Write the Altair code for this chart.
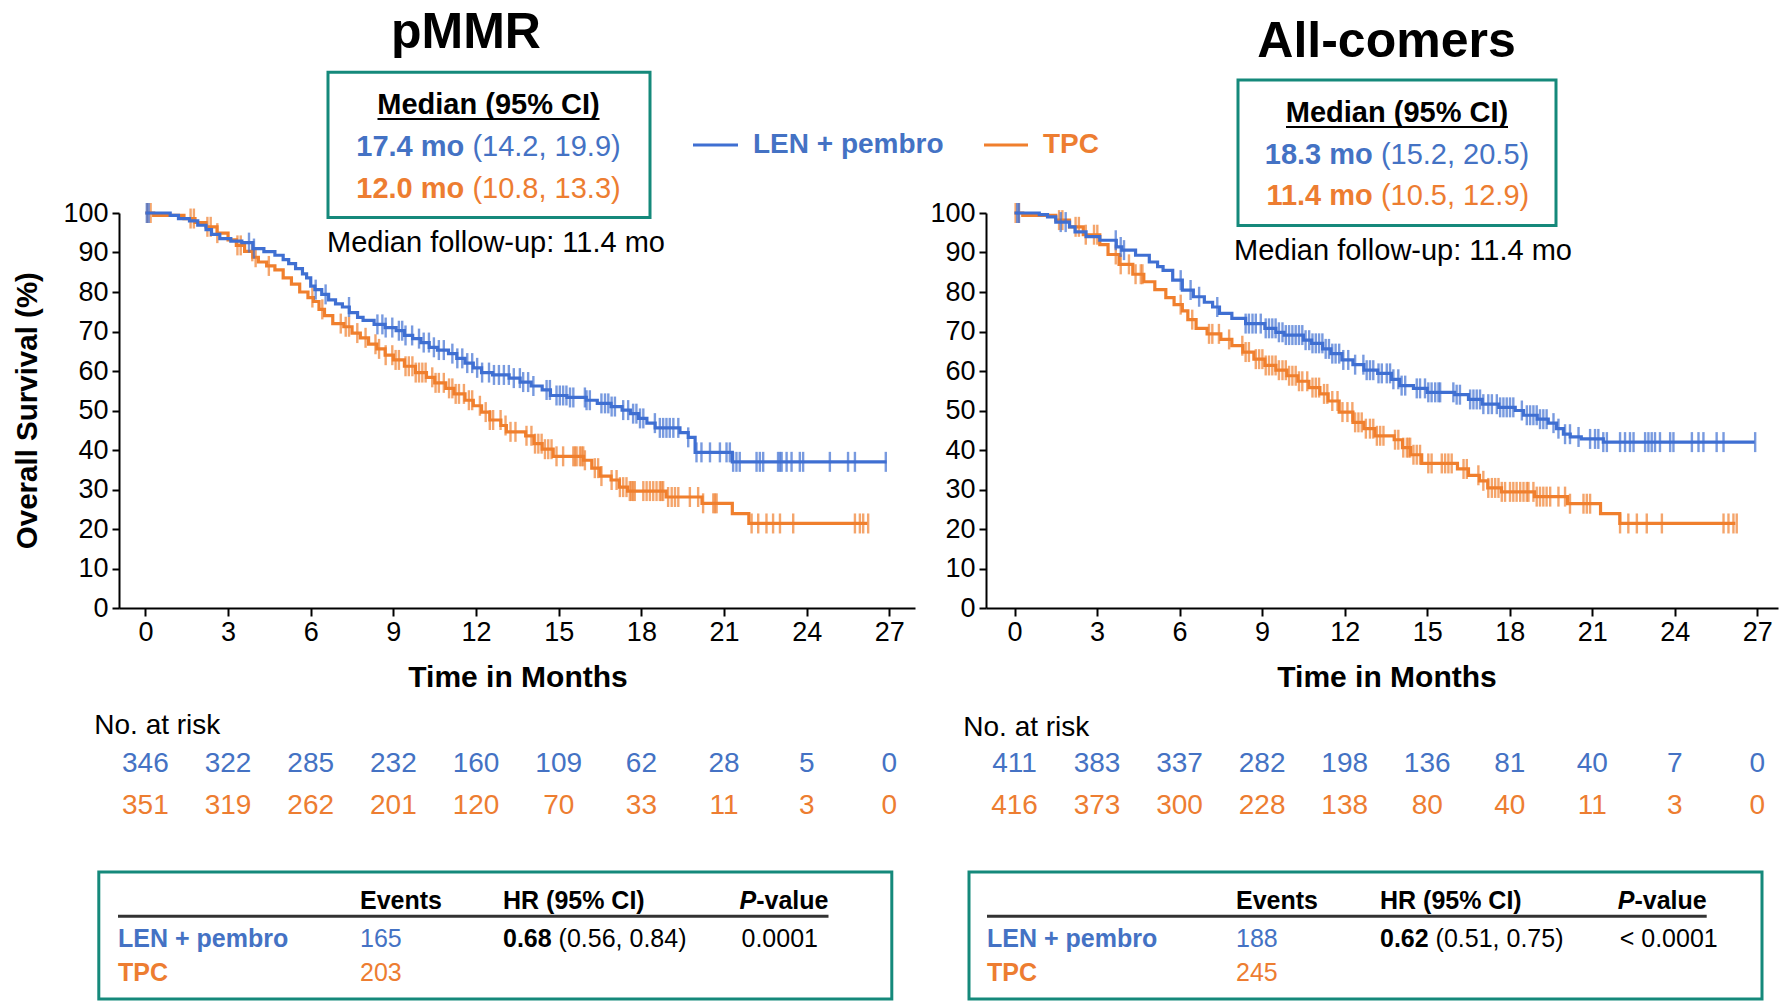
import altair as alt
import numpy as np
import pandas as pd

FONT = "Liberation Sans"
BLUE_TXT = "#4472C4"
ORANGE_TXT = "#ED7D31"
BLUE_LINE = "#3F6FD2"
ORANGE_LINE = "#F07F2D"
TEAL = "#15897B"

months = list(range(0, 28, 3))

# ---------------- pMMR ----------------
pmmr_len_t = [0, 0.9, 1.2, 1.6, 1.9, 2.2, 2.4, 2.7, 3.1, 3.5, 3.9, 4.3, 4.7, 5.0, 5.2, 5.45, 5.7, 5.85, 6.0, 6.15,
              6.4, 6.65, 6.9, 7.15, 7.4, 7.7, 7.9, 8.3, 8.7, 9.1, 9.4, 9.7, 10.0, 10.3, 10.6, 11.0, 11.3, 11.6, 11.9, 12.2,
              12.6, 13.2, 13.6, 14.0, 14.4, 14.7, 15.3, 16.0, 16.4, 16.9, 17.3, 17.6, 17.9, 18.2, 18.5, 19.4, 19.7, 19.95, 21.3, 26.9]
pmmr_len_s = [100, 99.4, 98.6, 98.0, 96.9, 95.8, 94.6, 93.5, 92.9, 92.5, 91.0, 90.2, 89.3, 88.2, 87.2, 85.9, 84.6, 83.6, 81.5, 80.6,
              79.4, 78.0, 77.0, 76.2, 74.8, 73.6, 72.8, 71.8, 71.0, 70.2, 69.0, 68.2, 67.2, 66.0, 65.3, 64.4, 63.2, 62.0, 60.8, 59.6,
              59.0, 58.2, 57.2, 56.2, 55.2, 53.8, 53.3, 52.6, 51.8, 51.0, 50.1, 49.2, 48.0, 46.8, 45.6, 44.4, 43.2, 39.4, 37.0, 37.0]
pmmr_len_c = [0.05, 0.12, 3.76, 3.94, 6.18, 6.54, 7.39, 8.42, 8.6, 8.72, 8.96, 9.2, 9.32, 9.44, 9.68, 9.93, 10.1, 10.29, 10.47,
              10.65, 10.83, 11.14, 11.32, 11.5, 11.68, 11.86, 12.04, 12.22, 12.47, 12.65, 12.83, 13.01, 13.19, 13.37, 13.59, 13.71,
              13.89, 14.08, 14.56, 14.68, 14.92, 15.04, 15.16, 15.28, 15.41, 15.53, 15.95, 16.01, 16.13, 16.55, 16.68, 16.8, 16.92,
              17.04, 17.34, 17.52, 17.7, 17.82, 17.95, 18.07, 18.49, 18.67, 18.79, 18.91, 19.03, 19.16, 19.34, 19.7, 20.0, 20.18,
              20.49, 20.85, 21.09, 21.21, 21.33, 21.45, 21.57, 22.18, 22.3, 22.42, 22.96, 23.03, 23.09, 23.27, 23.45, 23.75, 23.87,
              24.84, 25.5, 25.75, 26.87]

pmmr_tpc_t = [0, 0.3, 1.4, 1.8, 2.2, 2.6, 3.0, 3.3, 3.6, 3.9, 4.1, 4.4, 4.7, 5.0, 5.3, 5.6, 5.9, 6.1, 6.3, 6.5, 6.8, 7.2, 7.5,
              7.8, 8.1, 8.4, 8.7, 9.0, 9.4, 9.8, 10.2, 10.5, 10.9, 11.2, 11.6, 11.9, 12.2, 12.5, 12.9, 13.1, 13.8, 14.1, 14.4, 14.8,
              15.9, 16.2, 16.5, 16.9, 17.2, 17.5, 18.9, 20.2, 21.3, 21.9, 26.2]
pmmr_tpc_s = [100, 99.4, 98.6, 97.6, 96.5, 94.9, 93.2, 91.8, 90.3, 88.8, 87.6, 86.6, 85.6, 83.6, 82.0, 80.0, 78.6, 77.6, 75.6, 74.0,
              72.0, 71.2, 69.6, 68.4, 66.8, 65.6, 64.0, 62.8, 61.2, 59.6, 58.4, 57.0, 55.6, 54.2, 52.6, 51.2, 49.6, 47.6, 46.2, 44.6,
              43.6, 41.6, 40.2, 38.4, 37.4, 35.4, 33.4, 32.4, 30.6, 29.6, 28.1, 26.5, 23.9, 21.4, 21.4]
pmmr_tpc_c = [0.07, 0.19, 1.64, 1.76, 2.25, 2.37, 2.61, 3.34, 3.46, 3.88, 4.0, 4.48, 6.06, 6.42, 7.09, 7.27, 7.39, 7.69, 7.99,
              8.35, 8.48, 8.72, 8.96, 9.08, 9.2, 9.44, 9.56, 9.69, 9.81, 9.93, 10.05, 10.17, 10.41, 10.53, 10.65, 10.83, 11.02,
              11.14, 11.26, 11.38, 11.56, 11.74, 11.86, 12.14, 12.35, 12.5, 12.62, 12.89, 13.07, 13.25, 13.43, 13.83, 14.01, 14.14,
              14.26, 14.38, 14.5, 14.62, 14.74, 14.92, 15.16, 15.53, 15.59, 15.65, 15.77, 15.83, 15.89, 15.95, 16.31, 16.43, 16.55,
              16.92, 17.1, 17.22, 17.34, 17.46, 17.58, 17.64, 17.7, 17.76, 18.07, 18.19, 18.31, 18.43, 18.55, 18.67, 18.73, 18.79,
              18.97, 19.1, 19.22, 19.34, 19.76, 20.06, 20.24, 20.61, 20.67, 20.73, 22.0, 22.24, 22.54, 22.78, 23.03, 23.51, 25.75,
              25.93, 26.05, 26.23]

pmmr_risk_len = [346, 322, 285, 232, 160, 109, 62, 28, 5, 0]
pmmr_risk_tpc = [351, 319, 262, 201, 120, 70, 33, 11, 3, 0]

# ---------------- All-comers ----------------
all_len_t = [0, 0.9, 1.2, 1.5, 2.0, 2.2, 2.6, 3.1, 3.7, 3.9, 4.4, 4.9, 5.2, 5.4, 5.75, 6.1, 6.5, 6.9, 7.2, 7.45, 7.9, 8.4,
             9.1, 9.5, 9.8, 10.5, 10.8, 11.2, 11.5, 11.9, 12.3, 12.7, 13.2, 13.7, 14.0, 14.5, 15.0, 16.0, 16.5, 17.0, 17.6,
             18.2, 18.5, 19.0, 19.4, 19.7, 19.95, 20.2, 20.6, 21.4, 26.9]
all_len_s = [100, 99.6, 99.0, 97.7, 96.5, 95.2, 94.0, 93.1, 91.4, 90.6, 89.3, 87.6, 86.4, 85.5, 83.0, 80.5, 78.8, 77.4, 76.2,
             74.6, 73.3, 72.0, 70.8, 69.8, 69.1, 67.8, 67.0, 65.6, 64.4, 62.8, 61.6, 60.2, 59.4, 57.9, 56.3, 55.6, 54.6, 54.0,
             52.8, 51.6, 50.8, 50.0, 48.8, 47.8, 46.8, 45.4, 44.0, 43.3, 42.8, 42.0, 42.0]
all_len_c = [0.1, 0.16, 1.68, 1.86, 3.68, 3.86, 3.98, 6.04, 6.4, 6.71, 7.37, 8.4, 8.52, 8.65, 8.77, 8.95, 9.13, 9.25, 9.37,
             9.49, 9.61, 9.74, 9.86, 9.98, 10.1, 10.22, 10.34, 10.46, 10.58, 10.71, 10.83, 10.95, 11.07, 11.19, 11.31, 11.43,
             11.55, 11.67, 11.8, 11.95, 12.13, 12.38, 12.68, 12.8, 12.92, 13.04, 13.23, 13.35, 13.53, 13.65, 13.77, 13.95, 14.07,
             14.2, 14.62, 14.74, 14.92, 15.04, 15.16, 15.29, 15.41, 15.47, 15.95, 16.07, 16.19, 16.56, 16.68, 16.8, 16.92, 17.04,
             17.22, 17.35, 17.53, 17.65, 17.77, 17.89, 18.01, 18.13, 18.44, 18.62, 18.74, 18.86, 18.98, 19.1, 19.22, 19.34, 19.59,
             19.77, 20.01, 20.19, 20.5, 20.92, 21.1, 21.22, 21.4, 21.53, 22.01, 22.19, 22.37, 22.5, 22.92, 23.04, 23.16, 23.28,
             23.46, 23.83, 23.95, 24.62, 24.86, 25.04, 25.52, 25.77, 26.92]

all_tpc_t = [0, 0.3, 1.5, 2.0, 2.5, 3.1, 3.4, 3.8, 4.3, 4.7, 5.1, 5.5, 5.8, 6.1, 6.3, 6.6, 7.0, 7.5, 7.9, 8.3, 8.7, 9.1, 9.5,
             9.9, 10.3, 10.7, 11.1, 11.4, 11.8, 12.3, 12.7, 13.1, 13.8, 14.1, 14.4, 14.8, 16.1, 16.5, 16.9, 17.2, 17.7, 18.9,
             20.1, 21.3, 22.0, 26.2]
all_tpc_s = [100, 99.4, 98.2, 96.5, 94.5, 92.0, 89.5, 87.0, 84.5, 82.6, 80.6, 78.6, 76.8, 75.2, 73.0, 70.8, 69.4, 68.0, 66.4,
             64.8, 63.0, 61.4, 60.2, 58.8, 57.4, 55.8, 54.2, 52.4, 49.6, 47.0, 45.4, 43.6, 42.6, 40.6, 38.8, 36.6, 35.2, 33.6,
             32.2, 30.4, 29.4, 28.2, 26.4, 23.9, 21.4, 21.4]
all_tpc_c = [0.04, 0.16, 1.62, 1.74, 2.22, 2.34, 2.59, 2.89, 3.01, 3.68, 3.86, 4.16, 4.4, 4.59, 4.65, 6.04, 6.46, 7.07, 7.19,
             7.43, 7.8, 8.28, 8.4, 8.52, 8.77, 8.89, 9.01, 9.13, 9.25, 9.37, 9.49, 9.61, 9.74, 9.86, 9.98, 10.1, 10.22, 10.34,
             10.46, 10.64, 10.83, 10.95, 11.07, 11.25, 11.37, 11.55, 11.74, 11.92, 12.1, 12.28, 12.38, 12.5, 12.62, 12.77, 12.92,
             13.04, 13.17, 13.29, 13.41, 13.83, 13.95, 14.13, 14.26, 14.32, 14.38, 14.5, 14.62, 14.74, 15.04, 15.16, 15.53, 15.65,
             15.77, 15.89, 16.32, 16.44, 16.86, 17.04, 17.22, 17.35, 17.47, 17.59, 17.71, 17.83, 18.01, 18.13, 18.25, 18.38, 18.5,
             18.62, 18.68, 18.86, 18.98, 19.1, 19.22, 19.34, 19.47, 19.77, 20.01, 20.19, 20.68, 20.8, 20.92, 22.01, 22.31, 22.62,
             22.98, 23.53, 25.77, 25.95, 26.13, 26.25]

all_risk_len = [411, 383, 337, 282, 198, 136, 81, 40, 7, 0]
all_risk_tpc = [416, 373, 300, 228, 138, 80, 40, 11, 3, 0]

DUMMY = pd.DataFrame({"d": [0]})

XAXIS = alt.Axis(values=months, title=None, grid=False, domainColor="black", domainWidth=2,
                 tickColor="black", tickWidth=2, tickSize=8, labelFont=FONT, labelFontSize=27,
                 labelColor="black", labelPadding=3, labelFlush=False, labelOverlap=False)
YAXIS = alt.Axis(values=list(range(0, 101, 10)), title=None, grid=False, domainColor="black", domainWidth=2,
                 tickColor="black", tickWidth=2, tickSize=7, labelFont=FONT, labelFontSize=27,
                 labelColor="black", labelPadding=4, labelOverlap=False)


def step_at(ts, ss, t):
    i = int(np.searchsorted(np.array(ts), t, side="right")) - 1
    return ss[max(i, 0)]


def build_panel(cfg):
    ox, oy = cfg["origin"]
    W = cfg["width"]
    H = 395
    xs = alt.Scale(domain=cfg["xdomain"], nice=False, zero=False)
    ys = alt.Scale(domain=[0, 100], nice=False)

    def T(s, x, y, size, color="black", weight="normal", align="left", style="normal", angle=0):
        kw = dict(text=s, fontSize=size, font=FONT, fontWeight=weight, fontStyle=style,
                  align=align, baseline="middle", color=color)
        if angle:
            kw["angle"] = angle
        return alt.Chart(DUMMY).mark_text(**kw).encode(x=alt.value(x - ox), y=alt.value(y - oy))

    def R(x1, x2, y, color, w):
        return alt.Chart(DUMMY).mark_rule(color=color, strokeWidth=w).encode(
            x=alt.value(x1 - ox), x2=alt.value(x2 - ox), y=alt.value(y - oy))

    def BOX(x1, x2, y1, y2):
        return alt.Chart(DUMMY).mark_rect(fillOpacity=0, stroke=TEAL, strokeWidth=3).encode(
            x=alt.value(x1 - ox), x2=alt.value(x2 - ox), y=alt.value(y1 - oy), y2=alt.value(y2 - oy))

    layers = []
    for ts, ss, cs, col in [(cfg["tpc_t"], cfg["tpc_s"], cfg["tpc_c"], ORANGE_LINE),
                            (cfg["len_t"], cfg["len_s"], cfg["len_c"], BLUE_LINE)]:
        df = pd.DataFrame({"t": ts, "s": ss})
        layers.append(alt.Chart(df).mark_line(interpolate="step-after", color=col, strokeWidth=3.2).encode(
            x=alt.X("t:Q", scale=xs, axis=XAXIS), y=alt.Y("s:Q", scale=ys, axis=YAXIS)))
        cdf = pd.DataFrame({"t": cs, "s": [step_at(ts, ss, c) for c in cs]})
        layers.append(alt.Chart(cdf).mark_tick(orient="vertical", color=col, size=20, thickness=2.4).encode(
            x=alt.X("t:Q", scale=xs, axis=XAXIS), y=alt.Y("s:Q", scale=ys, axis=YAXIS)))

    # risk table
    for vals, col, yy in [(cfg["risk_len"], BLUE_TXT, 763.4), (cfg["risk_tpc"], ORANGE_TXT, 805.4)]:
        rdf = pd.DataFrame({"t": months, "n": [str(v) for v in vals]})
        layers.append(alt.Chart(rdf).mark_text(font=FONT, fontSize=28, align="center", baseline="middle",
                                               color=col).encode(
            x=alt.X("t:Q", scale=xs, axis=XAXIS), y=alt.value(yy - oy), text="n:N"))

    a = cfg["ann"]
    # title
    layers.append(T(cfg["title"], a["title"][0], a["title"][1], 50, weight="bold", align="center"))
    # median box
    bx = a["box"]
    layers.append(BOX(*bx))
    mc = a["mcenter"]
    layers.append(T("Median (95% CI)", mc, a["my"][0], 29, weight="bold", align="center"))
    layers.append(R(mc - 111, mc + 111, a["my"][0] + 14, "black", 2))
    split = mc - 132.2 + 116.1
    for (b, r), col, yy in [(cfg["med_len"], BLUE_TXT, a["my"][1]), (cfg["med_tpc"], ORANGE_TXT, a["my"][2])]:
        layers.append(T(b, split - 8.1, yy, 29, color=col, weight="bold", align="right"))
        layers.append(T(r, split, yy, 29, color=col, align="left"))
    layers.append(T("Median follow-up: 11.4 mo", a["fu"][0], a["fu"][1], 29, align="center"))
    # axis title
    layers.append(T("Time in Months", a["xt"][0], a["xt"][1], 30, weight="bold", align="center"))
    if "yt" in a:
        layers.append(T("Overall Survival (%)", a["yt"][0], a["yt"][1], 29.5, weight="bold",
                        align="center", angle=270))
    # legend
    if "legend" in a:
        lx = a["legend"]
        layers.append(R(lx[0], lx[0] + 45, lx[4], BLUE_LINE, 3))
        layers.append(T("LEN + pembro", lx[1], lx[4], 28, color=BLUE_TXT, weight="bold"))
        layers.append(R(lx[2], lx[2] + 44, lx[4], ORANGE_LINE, 3))
        layers.append(T("TPC", lx[3], lx[4], 28, color=ORANGE_TXT, weight="bold"))
    # no. at risk
    layers.append(T("No. at risk", a["nar"][0], a["nar"][1], 28))
    # bottom table
    tb = a["tbox"]
    layers.append(BOX(*tb))
    c0, c1, c2, c3 = a["cols"]
    hy, r1, r2 = 900.8, 938.3, 972.4
    layers.append(T("Events", c1, hy, 25, weight="bold"))
    layers.append(T("HR (95% CI)", c2, hy, 25, weight="bold"))
    layers.append(T("P", c3, hy, 25, weight="bold", style="italic"))
    layers.append(T("-value", c3 + 16.7, hy, 25, weight="bold"))
    layers.append(R(c0, c3 + 89, 915.6, "#333333", 3))
    layers.append(T("LEN + pembro", c0, r1, 25, color=BLUE_TXT, weight="bold"))
    layers.append(T(str(cfg["ev_len"]), c1, r1, 25, color=BLUE_TXT))
    layers.append(T(cfg["hr"][0], c2, r1, 25, weight="bold"))
    layers.append(T(cfg["hr"][1], c2 + 55.6, r1, 25))
    layers.append(T(cfg["pval"], c3 + 2, r1, 25))
    layers.append(T("TPC", c0, r2, 25, color=ORANGE_TXT, weight="bold"))
    layers.append(T(str(cfg["ev_tpc"]), c1, r2, 25, color=ORANGE_TXT))

    # invisible layout anchors
    for (ax, ay) in cfg["anchors"]:
        layers.append(alt.Chart(DUMMY).mark_rect(opacity=0).encode(
            x=alt.value(ax - ox), x2=alt.value(ax - ox + 1), y=alt.value(ay - oy), y2=alt.value(ay - oy + 1)))

    return alt.layer(*layers).properties(width=W, height=H)


p1 = build_panel(dict(
    origin=(119, 212.4), width=796, xdomain=[-0.958, 27.93], title="pMMR",
    len_t=pmmr_len_t, len_s=pmmr_len_s, len_c=pmmr_len_c,
    tpc_t=pmmr_tpc_t, tpc_s=pmmr_tpc_s, tpc_c=pmmr_tpc_c,
    risk_len=pmmr_risk_len, risk_tpc=pmmr_risk_tpc,
    med_len=("17.4 mo", "(14.2, 19.9)"), med_tpc=("12.0 mo", "(10.8, 13.3)"),
    ev_len=165, ev_tpc=203, hr=("0.68", "(0.56, 0.84)"), pval="0.0001",
    anchors=[(0, 0)],
    ann=dict(title=(466, 32), box=(328, 650, 71.6, 217), mcenter=488.5, my=(104.5, 146.5, 188.6),
             fu=(496, 242), xt=(518, 677), yt=(28.4, 410), legend=(693, 753, 984, 1043, 144.3),
             nar=(94.3, 725), tbox=(98.8, 891.8, 871.3, 998.5), cols=(118, 360, 503, 739.5)),
))

p2 = build_panel(dict(
    origin=(986, 212.4), width=792, xdomain=[-1.036, 27.75], title="All-comers",
    len_t=all_len_t, len_s=all_len_s, len_c=all_len_c,
    tpc_t=all_tpc_t, tpc_s=all_tpc_s, tpc_c=all_tpc_c,
    risk_len=all_risk_len, risk_tpc=all_risk_tpc,
    med_len=("18.3 mo", "(15.2, 20.5)"), med_tpc=("11.4 mo", "(10.5, 12.9)"),
    ev_len=188, ev_tpc=245, hr=("0.62", "(0.51, 0.75)"), pval="< 0.0001",
    anchors=[(1780, 1000)],
    ann=dict(title=(1386.5, 40.9), box=(1238, 1556, 79.5, 225), mcenter=1397, my=(112.5, 154.5, 195.4),
             fu=(1403, 250), xt=(1387, 677),
             nar=(963.3, 727), tbox=(969, 1762, 871.3, 998.5), cols=(987, 1236, 1380, 1617.7)),
))

chart = alt.hconcat(p1, p2, spacing=71, bounds="flush").properties(
    padding=0, background="white"
).configure_view(stroke=None)

chart.save("out.html", embed_options={"renderer": "svg", "actions": False})
